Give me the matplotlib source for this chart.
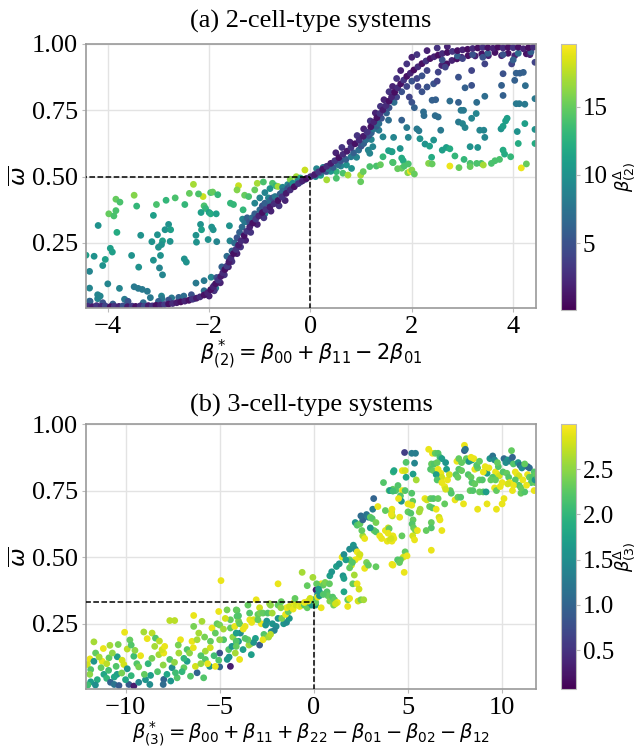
import matplotlib
matplotlib.use('Agg')
import matplotlib.pyplot as plt
import numpy as np

plt.rcParams['font.family'] = 'serif'
plt.rcParams['font.serif'] = ['Liberation Serif', 'DejaVu Serif']
plt.rcParams['mathtext.fontset'] = 'dejavusans'

# ---------------- panel (a): 2 cell types ----------------
# main (low beta_delta) strand
a_curve_x = [-4.40, -4.30, -4.22, -4.13, -4.05, -3.95, -3.87, -3.78, -3.70, -3.61, -3.52, -3.45, -3.36, -3.28,
             -3.20, -3.12, -3.05, -2.96, -2.88, -2.80, -2.72, -2.64, -2.56, -2.48, -2.40, -2.33, -2.25, -2.18,
             -2.10, -2.03, -1.97, -1.92, -1.87, -1.82, -1.77, -1.73, -1.69, -1.65, -1.61, -1.57, -1.52, -1.47,
             -1.42, -1.37, -1.31, -1.26, -1.20, -1.14, -1.08, -1.02, -0.95, -0.88, -0.80, -0.72, -0.64, -0.56,
             -0.48, -0.40, -0.32, -0.24, -0.16, -0.08, 0.00, 0.08, 0.16, 0.24, 0.32, 0.40, 0.48, 0.56, 0.64,
             0.72, 0.80, 0.88, 0.96, 1.04, 1.12, 1.19, 1.25, 1.31, 1.37, 1.43, 1.49, 1.55, 1.60, 1.66, 1.72,
             1.78, 1.84, 1.90, 1.97, 2.04, 2.12, 2.20, 2.28, 2.36, 2.44, 2.52, 2.60, 2.70, 2.80, 2.90, 3.00,
             3.10, 3.20, 3.30, 3.40, 3.50, 3.60, 3.70, 3.80, 3.90, 4.00, 4.10, 4.20, 4.30, 4.40]
a_curve_y = [0.012, 0.010, 0.014, 0.011, 0.013, 0.010, 0.012, 0.011, 0.013, 0.010, 0.012, 0.011, 0.013, 0.012,
             0.014, 0.013, 0.015, 0.016, 0.018, 0.020, 0.022, 0.025, 0.028, 0.031, 0.034, 0.038, 0.042, 0.047,
             0.054, 0.062, 0.074, 0.085, 0.097, 0.110, 0.124, 0.138, 0.150, 0.163, 0.178, 0.193, 0.210, 0.226,
             0.242, 0.258, 0.278, 0.294, 0.310, 0.325, 0.340, 0.352, 0.365, 0.376, 0.386, 0.398, 0.410, 0.424,
             0.437, 0.450, 0.462, 0.474, 0.484, 0.493, 0.500, 0.508, 0.518, 0.528, 0.539, 0.550, 0.560, 0.572,
             0.584, 0.596, 0.610, 0.624, 0.637, 0.652, 0.668, 0.688, 0.706, 0.722, 0.738, 0.752, 0.768, 0.785,
             0.800, 0.818, 0.835, 0.850, 0.864, 0.878, 0.890, 0.902, 0.914, 0.926, 0.936, 0.945, 0.952, 0.958,
             0.964, 0.968, 0.972, 0.975, 0.978, 0.980, 0.983, 0.985, 0.987, 0.986, 0.984, 0.988, 0.985, 0.988,
             0.986, 0.988, 0.982, 0.986, 0.988]
a_curve_c = [2.5, 1.5, 3.0, 2.0, 4.0, 1.0, 3.0, 2.0, 5.0, 1.5, 3.5, 1.0, 2.5, 4.5, 1.5, 3.0, 1.0, 2.0, 3.5, 1.0,
             2.5, 1.5, 0.8, 2.0, 1.0, 3.0, 1.5, 2.5, 1.0, 2.0, 0.8, 2.0, 1.0, 3.0, 1.5, 2.5, 1.0, 3.5, 1.5, 2.5,
             1.0, 3.0, 1.5, 2.5, 1.0, 3.0, 2.0, 1.0, 3.5, 2.0, 1.0, 3.0, 1.5, 2.5, 1.0, 3.0, 1.5, 2.5, 1.0, 3.0,
             2.0, 1.0, 2.5, 1.5, 3.0, 1.0, 2.5, 1.5, 3.0, 1.0, 2.5, 1.5, 3.0, 1.0, 2.5, 1.5, 3.0, 1.0, 2.0, 1.0,
             3.0, 1.5, 2.5, 1.0, 2.0, 0.8, 2.5, 1.0, 3.0, 1.0, 2.0, 0.8, 2.5, 1.0, 3.0, 1.0, 2.0, 0.8, 2.5, 1.0,
             3.0, 1.0, 2.0, 0.8, 2.5, 1.0, 3.0, 1.0, 2.0, 0.8, 2.5, 1.0, 3.0, 1.0, 2.0, 0.8, 2.5]

# strands next to the main one
a_band_x = [-2.30, -2.10, -1.90, -1.85, -1.75, -1.65, -1.60, -1.55, -1.50, -1.45, -1.40, -1.35, -1.30, -1.25,
            -1.20, -1.15, -1.10, -1.00, -0.95, -0.90, -0.80, -0.75, -0.70, -0.60, -0.55, -0.45, -0.40, -0.30,
            -0.20, -0.10, -0.25, -0.35, 0.10, 0.20, 0.30, 0.35, 0.45, 0.55, 0.60, 0.70, 0.80, 0.85, 0.95, 1.00,
            1.05, 1.10, 1.15, 1.20, 1.25, 1.30, 1.35, 1.40, 1.50, 1.55, 1.65, 1.70, 1.80, 1.90, 2.00, 2.10, 2.20,
            2.30, -4.35, -4.10, -3.90, -3.60, -3.30, -3.00, -2.80, -2.60, -2.50, -2.35, 2.60, 2.90, 3.20, 3.50,
            3.80, 4.10, 4.35, 3.00, 3.40, 4.00,
            -2.00, -1.90, -1.78, -1.70, -1.62, -1.55, -1.45, -1.38, -1.28, -1.18, -1.05, -0.92, -0.78, -0.62,
            -0.50, 0.50, 0.62, 0.78, 0.92, 1.05, 1.18, 1.28, 1.38, 1.45, 1.55, 1.62, 1.70, 1.78, 1.90, 2.00,
            2.10, 2.30, 2.50, 2.70]
a_band_y = [0.040, 0.070, 0.090, 0.120, 0.160, 0.200, 0.185, 0.220, 0.250, 0.270, 0.290, 0.310, 0.330, 0.345,
            0.330, 0.345, 0.360, 0.375, 0.390, 0.400, 0.410, 0.420, 0.425, 0.435, 0.445, 0.455, 0.465, 0.470,
            0.480, 0.490, 0.485, 0.475, 0.505, 0.515, 0.520, 0.530, 0.535, 0.545, 0.560, 0.565, 0.575, 0.590,
            0.600, 0.615, 0.625, 0.640, 0.655, 0.665, 0.680, 0.690, 0.700, 0.720, 0.740, 0.760, 0.780, 0.800,
            0.820, 0.840, 0.860, 0.870, 0.880, 0.900, 0.030, 0.025, 0.020, 0.030, 0.025, 0.030, 0.035, 0.045,
            0.050, 0.055, 0.940, 0.955, 0.960, 0.965, 0.960, 0.965, 0.970, 0.945, 0.950, 0.940,
            0.050, 0.070, 0.100, 0.130, 0.160, 0.180, 0.210, 0.235, 0.260, 0.290, 0.320, 0.345, 0.370, 0.390,
            0.410, 0.590, 0.610, 0.630, 0.655, 0.680, 0.710, 0.740, 0.765, 0.790, 0.820, 0.840, 0.870, 0.900,
            0.925, 0.950, 0.960, 0.975, 0.985, 0.990]
a_band_c = [6, 7, 6, 5, 6, 7, 5, 6, 7, 5, 6, 7, 8, 6, 5, 7, 6, 7, 5, 6, 7, 5, 8, 6, 7, 5, 6, 8, 6, 7, 9, 10,
            6, 7, 5, 8, 6, 7, 5, 6, 8, 6, 7, 5, 6, 7, 5, 6, 8, 6, 7, 5, 6, 5, 7, 4, 5, 4, 5, 4, 5, 4,
            6, 5, 6, 5, 7, 6, 5, 6, 7, 5, 5, 6, 5, 6, 5, 7, 6, 4, 5, 6,
            2, 3, 2, 3, 2, 3, 2, 3, 2, 3, 2, 3, 2, 3, 2, 2, 3, 2, 3, 2, 3, 2, 3, 2, 3, 2, 3, 2, 3, 2,
            3, 2, 3, 2]

# scattered cloud, left of zero
a_left_x = [-2.31, -1.42, -3.48, -2.12, -2.39, -2.21, -1.97, -1.93, -1.83, -3.84, -3.76, -2.67, -2.85, -2.48,
            -3.04, -3.43, -3.98, -3.88, -3.84, -3.10, -2.10, -2.07, -2.00, -1.97, -2.16, -1.86, -1.58, -1.52,
            -1.60, -4.19, -2.80, -2.87, -2.76, -2.17, -2.15, -1.95, -1.92, -3.82, -3.35, -3.02, -3.13, -2.92,
            -2.77, -3.00, -2.94, -2.26, -2.25, -2.02, -1.85, -1.59, -1.34, -3.95, -3.91, -4.43, -4.27, -4.05,
            -4.10, -3.53, -3.10, -2.96, -2.49, -2.45, -3.39, -2.98, -2.92, -4.36, -4.36, -4.00, -3.77, -3.48,
            -3.40, -3.32, -3.22, -4.20, -4.15, -4.20, -3.67, -3.62, -3.16, -2.94, -2.93, -2.74, -2.26, -2.10,
            -1.96, -1.87, -4.36, -1.30, -1.22, -1.05, -0.93, -0.75, -0.68, -0.64, -0.28, -0.11, -0.55, -0.45,
            -0.80, -0.90, -1.00, -1.10, -1.33, -1.20, -1.25, -0.83, -0.80, -0.90, -1.45, -1.10, -0.40, -0.20]
a_left_y = [0.471, 0.466, 0.430, 0.425, 0.437, 0.435, 0.440, 0.442, 0.432, 0.415, 0.404, 0.420, 0.411, 0.395,
            0.395, 0.389, 0.360, 0.352, 0.372, 0.354, 0.390, 0.380, 0.365, 0.360, 0.365, 0.360, 0.400, 0.395,
            0.315, 0.316, 0.320, 0.300, 0.300, 0.320, 0.300, 0.310, 0.300, 0.290, 0.279, 0.281, 0.255, 0.258,
            0.256, 0.234, 0.244, 0.279, 0.253, 0.263, 0.255, 0.258, 0.340, 0.230, 0.216, 0.204, 0.200, 0.188,
            0.165, 0.203, 0.185, 0.203, 0.190, 0.178, 0.159, 0.156, 0.130, 0.143, 0.080, 0.096, 0.079, 0.085,
            0.079, 0.075, 0.068, 0.055, 0.050, 0.040, 0.038, 0.031, 0.044, 0.050, 0.040, 0.043, 0.099, 0.108,
            0.121, 0.080, 0.031, 0.430, 0.425, 0.475, 0.480, 0.475, 0.465, 0.463, 0.500, 0.525, 0.460, 0.470,
            0.455, 0.440, 0.420, 0.400, 0.375, 0.335, 0.330, 0.420, 0.390, 0.360, 0.450, 0.450, 0.490, 0.495]
a_left_c = [17, 18, 16, 18, 15, 14, 14, 15, 13, 15, 14, 14, 13, 13, 14, 13, 15, 14, 14, 11, 14, 13, 11, 12, 11,
            11, 13, 13, 10, 10, 10, 10, 11, 10, 11, 10, 10, 12, 10, 10, 10, 11, 10, 10, 10, 10, 10, 10, 9, 9,
            9, 11, 11, 11, 10, 11, 10, 10, 10, 10, 10, 10, 10, 9, 9, 9, 9, 9, 9, 8, 8, 8, 8, 9, 9, 9, 8, 8,
            8, 9, 8, 8, 8, 8, 9, 8, 9, 15, 14, 17, 14, 14, 13, 17, 17, 18, 9, 9, 10, 9, 9, 9, 13, 9, 9, 9,
            9, 9, 16, 15, 16, 12]

# scattered cloud, right of zero
a_right_x = [0.12, 0.25, 0.33, 0.51, 0.64, 0.74, 0.99, 1.04, 0.99, 0.32, 0.51, 0.10, 0.20, 0.71, 0.81, 0.91,
             1.17, 1.30, 1.38, 1.43, 1.60, 1.63, 1.23, 1.17, 1.43, 1.35, 1.10, 1.20, 1.14, 0.60, 0.40,
             2.59, 2.69, 2.79, 2.89, 2.98, 3.11, 3.25, 3.38, 3.51, 3.64, 3.77, 3.90, 4.03, 4.26, 4.43, 4.33,
             2.52, 2.66, 2.92, 3.18, 3.44, 3.80, 3.97, 4.06, 4.13, 4.20, 4.03, 4.24, 2.30, 2.43, 2.50, 2.40,
             2.47, 2.75, 2.92, 3.05, 3.18, 3.28, 3.44, 3.77, 3.80, 4.06, 4.12, 4.23, 4.43, 2.12, 2.20, 1.95,
             2.00, 2.05,
             1.54, 1.80, 1.90, 2.10, 2.14, 2.23, 2.24, 2.46, 2.52, 2.57, 2.92, 2.97, 3.02, 3.00, 3.05, 3.18,
             3.34, 3.42, 3.27, 3.44, 3.30, 3.15, 3.76, 3.80, 3.85, 3.88, 4.08, 4.23, 4.43,
             1.54, 1.61, 1.77, 1.80, 1.83, 1.64, 1.93, 2.16, 2.26, 2.35, 2.43, 2.39, 2.60, 2.68, 2.75, 2.85,
             3.03, 3.15, 3.28, 3.37, 3.57, 3.64, 3.73, 3.80, 3.83, 3.95, 4.10, 4.43,
             1.62, 1.72, 1.80, 1.92, 1.97, 2.00, 1.93, 2.33, 2.40, 2.75, 2.93, 3.15, 3.41, 4.16, 4.26, 2.05,
             1.85]
a_right_y = [0.530, 0.535, 0.520, 0.519, 0.513, 0.506, 0.506, 0.519, 0.481, 0.488, 0.494, 0.500, 0.505, 0.544,
             0.531, 0.573, 0.538, 0.540, 0.545, 0.575, 0.594, 0.553, 0.613, 0.588, 0.650, 0.675, 0.640, 0.640,
             0.600, 0.540, 0.520,
             0.919, 0.925, 0.938, 0.944, 0.950, 0.956, 0.955, 0.963, 0.956, 0.968, 0.956, 0.965, 0.956, 0.963,
             0.931, 0.960,
             0.894, 0.913, 0.875, 0.900, 0.925, 0.888, 0.925, 0.890, 0.890, 0.893, 0.863, 0.843, 0.838, 0.850,
             0.860, 0.788, 0.790, 0.785, 0.780, 0.835, 0.844, 0.780, 0.803, 0.844, 0.806, 0.775, 0.775, 0.773,
             0.794, 0.840, 0.820, 0.800, 0.780, 0.760,
             0.713, 0.713, 0.685, 0.680, 0.673, 0.744, 0.730, 0.730, 0.725, 0.675, 0.706, 0.750, 0.750, 0.700,
             0.685, 0.720, 0.675, 0.675, 0.738, 0.648, 0.610, 0.613, 0.680, 0.690, 0.710, 0.720, 0.670, 0.700,
             0.678,
             0.598, 0.594, 0.606, 0.570, 0.560, 0.648, 0.648, 0.643, 0.623, 0.615, 0.638, 0.573, 0.600, 0.610,
             0.605, 0.578, 0.565, 0.550, 0.550, 0.550, 0.550, 0.560, 0.565, 0.600, 0.585, 0.575, 0.625, 0.625,
             0.554, 0.530, 0.532, 0.515, 0.520, 0.525, 0.548, 0.550, 0.548, 0.540, 0.534, 0.538, 0.544, 0.533,
             0.548, 0.510, 0.540]
a_right_c = [9, 8, 9, 13, 14, 17, 17, 15, 15, 17, 14, 10, 11, 10, 10, 9, 14, 14, 15, 13, 10, 14, 9, 9, 9, 8,
             9, 9, 9, 9, 10,
             2, 1, 2, 1, 2, 1, 2, 1, 2, 1, 2, 1, 2, 1, 4, 2,
             4, 4, 5, 4, 4, 5, 4, 6, 6, 6, 6, 7, 5, 5, 4, 6, 6, 7, 6, 6, 5, 7, 7, 6, 6, 8, 8, 8, 8, 4, 5, 4,
             5, 6,
             7, 6, 8, 8, 8, 7, 7, 7, 7, 8, 8, 8, 8, 9, 9, 9, 9, 9, 9, 9, 10, 10, 10, 11, 11, 11, 10, 11, 10,
             11, 11, 10, 12, 12, 9, 9, 10, 10, 11, 10, 12, 11, 11, 12, 13, 13, 14, 14, 14, 14, 14, 14, 12, 12,
             13, 12, 12,
             14, 15, 15, 16, 19, 16, 14, 16, 15, 19, 15, 15, 17, 19, 15, 15, 14]

# ---------------- panel (b): 3 cell types ----------------
b_low_x = [-4.93, -6.38, -7.65, -7.39, -10.05, -11.68, -9.03, -8.59, -8.85, -8.41, -10.83, -10.39, -11.18,
           -9.77, -9.91, -11.59, -11.89, -12.03, -11.85, -11.68, -11.24, -10.88, -10.44, -10.18, -10.09, -9.56,
           -9.40, -9.30, -9.91, -10.45, -10.60, -11.15, -11.00, -11.50, -11.85, -10.80, -10.60, -10.35, -9.82,
           -9.56, -8.94, -8.71, -8.67, -8.23, -7.97, -8.06, -7.92, -8.45, -7.65, -7.53, -7.97, -8.00, -7.60,
           -7.26, -7.35, -6.90, -7.17, -7.08, -6.73, -6.47, -6.38, -6.20, -6.11, -6.73, -6.55, -6.20, -5.85,
           -6.29, -5.76, -5.53, -5.94, -5.41, -5.76, -5.49, -5.23, -5.05, -5.14, -5.00, -4.79, -4.61, -4.43,
           -4.43, -4.08, -4.08, -4.52, -5.00, -5.00, -4.43, -4.60, -4.50, -5.05, -4.17, -4.00, -4.10, -3.90,
           -4.35, -5.23, -5.64,
           -11.90, -12.00, -11.60, -11.30, -11.00, -10.70, -10.50, -10.20, -10.00, -9.70, -9.50, -9.20, -9.00,
           -8.80, -8.60, -8.30, -8.00, -7.80, -7.40, -7.20, -6.90, -6.60, -6.40, -6.00, -5.80, -5.50, -5.30,
           -5.00, -4.80, -4.70, -4.30, -4.20, -4.00, -9.30, -10.90, -11.40, -7.00, -6.00, -8.20, -9.70]
b_low_y = [0.412, 0.281, 0.262, 0.262, 0.218, 0.182, 0.219, 0.215, 0.194, 0.196, 0.169, 0.172, 0.157, 0.189,
           0.155, 0.140, 0.118, 0.097, 0.078, 0.109, 0.109, 0.122, 0.126, 0.113, 0.097, 0.128, 0.100, 0.088,
           0.081, 0.060, 0.050, 0.060, 0.045, 0.040, 0.032, 0.030, 0.022, 0.018, 0.022, 0.016, 0.040, 0.022,
           0.056, 0.134, 0.140, 0.153, 0.165, 0.165, 0.116, 0.085, 0.041, 0.022, 0.035, 0.047, 0.066, 0.085,
           0.140, 0.190, 0.153, 0.184, 0.240, 0.190, 0.215, 0.109, 0.053, 0.066, 0.047, 0.090, 0.116, 0.090,
           0.259, 0.234, 0.147, 0.184, 0.215, 0.296, 0.250, 0.245, 0.190, 0.302, 0.265, 0.234, 0.300, 0.278,
           0.153, 0.140, 0.088, 0.090, 0.116, 0.125, 0.113, 0.140, 0.184, 0.180, 0.215, 0.165, 0.090, 0.100,
           0.060, 0.020, 0.020, 0.085, 0.100, 0.140, 0.090, 0.065, 0.040, 0.055, 0.150, 0.130, 0.060, 0.100,
           0.120, 0.070, 0.095, 0.060, 0.105, 0.170, 0.120, 0.140, 0.160, 0.130, 0.200, 0.160, 0.130, 0.190,
           0.230, 0.270, 0.200, 0.240, 0.260, 0.030, 0.075, 0.125, 0.070, 0.100, 0.185, 0.170]
b_low_c = [2.9, 2.9, 2.7, 2.7, 2.9, 2.6, 2.6, 2.7, 2.9, 2.2, 2.6, 2.4, 2.9, 2.3, 2.7, 2.3, 2.9, 2.8, 2.2, 1.6,
           2.9, 2.3, 1.7, 2.8, 2.8, 2.1, 2.2, 2.4, 1.6, 1.7, 1.8, 1.8, 2.0, 1.9, 1.7, 1.0, 1.2, 0.9, 0.9, 0.3,
           1.6, 1.5, 1.7, 2.6, 2.9, 2.8, 2.9, 2.6, 2.2, 1.5, 1.0, 1.1, 1.6, 2.2, 2.1, 2.3, 2.6, 2.9, 2.2, 2.9,
           2.4, 2.6, 2.6, 1.7, 2.2, 1.0, 2.2, 2.8, 2.2, 1.6, 2.6, 2.9, 2.6, 2.3, 2.3, 2.9, 2.3, 2.4, 2.2, 2.4,
           2.3, 2.3, 2.2, 2.2, 2.2, 0.8, 1.0, 0.3, 1.6, 1.6, 2.2, 2.6, 1.6, 1.6, 1.5, 1.6, 2.9, 2.9,
           2.5, 2.1, 1.5, 2.3, 2.7, 2.5, 2.2, 2.4, 1.8, 2.0, 2.5, 2.9, 2.3, 2.0, 2.4, 2.2, 2.5, 1.8, 2.5, 2.4,
           2.0, 2.5, 2.9, 2.2, 2.4, 2.8, 2.1, 2.5, 2.6, 2.8, 2.5, 2.9, 2.4, 1.4, 2.1, 2.6, 2.0, 2.5, 2.7, 2.2]

b_mid_x = [-4.12, -4.00, -3.94, -4.12, -4.12, -4.12, -3.94, -3.76, -3.45, -3.35, -3.32, -3.50, -3.41, -3.40,
           -3.20, -3.30, -3.06, -2.88, -2.97, -2.85, -2.70, -2.45, -2.35, -2.30, -2.79, -2.56, -2.50, -2.20,
           -2.00, -1.90, -2.26, -2.10, -1.60, -1.45, -1.30, -1.70, -1.50, -1.35, -1.45, -1.30, -1.10, -1.05,
           -0.95, -0.75, -0.65, -0.50, -0.35, -0.25, -0.10, -1.90, -1.75, -2.21, -2.65, -2.55, -3.10, -3.20,
           -3.50, -3.65, -2.88, -2.70, -2.40, -2.30, -2.97, -3.75, -3.65, -1.90, -1.73, -1.00, -0.62, -0.35,
           -0.05, 0.12, 0.20, 0.30, 0.40, 0.50, 0.60, 0.09, 0.39, 0.70, 0.75, 0.85, 0.83, 1.00, 1.10, 1.05,
           1.25, 1.15, 0.85, 0.95, 1.20, 1.35, 1.50, 1.60, 1.55, 1.60, 1.80, 1.90, 1.80, 2.07, 1.60, 2.35,
           2.50, 2.65, 2.30, 2.40, 2.15, 2.00, 2.20, 2.40, 1.90, 2.05, 1.90, 2.10, 2.20, 2.30, 2.45, 2.70,
           2.80, 2.90, 3.30, 4.20, 2.20, 2.30, 2.45, 2.60, 2.50, 2.80, 2.90, 3.13, 3.18, 3.00, 3.10, 3.40,
           3.20, 3.30, 3.80, 3.95, 3.90, 4.05, 4.15, 4.25, 4.00, 4.20, 4.35, 3.70, 4.22, 4.13, 4.17, 3.80,
           1.90, 1.70, 2.60, 2.70, 3.50, 3.60, 3.00, 3.30, 2.55, -0.50, -0.30, 0.00, 0.10, 0.20, 0.30, 0.50,
           -0.20, 0.15, 0.25]
b_mid_y = [0.302, 0.280, 0.250, 0.215, 0.184, 0.165, 0.116, 0.153, 0.170, 0.175, 0.134, 0.320, 0.290, 0.265,
           0.265, 0.255, 0.340, 0.310, 0.285, 0.290, 0.290, 0.290, 0.325, 0.320, 0.250, 0.245, 0.260, 0.250,
           0.240, 0.270, 0.220, 0.225, 0.250, 0.255, 0.270, 0.270, 0.285, 0.295, 0.310, 0.315, 0.305, 0.330,
           0.320, 0.315, 0.320, 0.320, 0.310, 0.330, 0.320, 0.320, 0.310, 0.290, 0.210, 0.200, 0.195, 0.180,
           0.190, 0.195, 0.170, 0.190, 0.200, 0.210, 0.265, 0.230, 0.240, 0.400, 0.333, 0.345, 0.443, 0.393,
           0.424, 0.377, 0.360, 0.370, 0.400, 0.395, 0.405, 0.320, 0.310, 0.370, 0.355, 0.335, 0.400, 0.350,
           0.340, 0.320, 0.330, 0.325, 0.430, 0.445, 0.465, 0.475, 0.500, 0.510, 0.430, 0.420, 0.340, 0.345,
           0.315, 0.400, 0.370, 0.335, 0.340, 0.340, 0.400, 0.380, 0.433, 0.470, 0.490, 0.500, 0.490, 0.480,
           0.530, 0.545, 0.530, 0.520, 0.510, 0.458, 0.480, 0.470, 0.464, 0.470, 0.630, 0.620, 0.625, 0.640,
           0.655, 0.660, 0.650, 0.680, 0.720, 0.650, 0.645, 0.690, 0.600, 0.595, 0.600, 0.610, 0.560, 0.565,
           0.560, 0.570, 0.750, 0.755, 0.750, 0.780, 0.820, 0.670, 0.655, 0.675, 0.460, 0.490, 0.580, 0.570,
           0.580, 0.570, 0.610, 0.630, 0.600, 0.330, 0.335, 0.340, 0.330, 0.350, 0.355, 0.360, 0.345, 0.400,
           0.380]
b_mid_c = [2.3, 2.2, 2.3, 1.7, 2.2, 2.3, 2.9, 1.7, 2.6, 2.5, 1.7, 2.3, 2.2, 2.9, 2.8, 2.9, 2.9, 2.8, 2.3, 2.4,
           2.3, 2.2, 2.6, 2.5, 2.9, 1.6, 1.6, 1.6, 1.5, 1.6, 1.5, 1.4, 1.6, 1.5, 1.6, 2.4, 2.9, 2.3, 2.9, 2.8,
           2.9, 2.9, 2.8, 2.9, 2.8, 2.2, 2.3, 1.7, 1.6, 2.3, 2.5, 2.6, 2.2, 2.3, 1.7, 1.6, 2.3, 2.2, 0.9, 2.9,
           2.6, 2.7, 2.3, 2.9, 2.9, 2.9, 2.3, 2.3, 2.6, 2.3, 2.6, 0.3, 1.6, 1.7, 2.9, 2.3, 2.4, 1.7, 2.9, 2.2,
           2.3, 2.4, 2.3, 2.2, 2.3, 2.4, 2.9, 2.8, 1.7, 1.6, 1.7, 1.6, 2.9, 1.5, 1.6, 1.7, 2.3, 2.9, 2.9, 2.3,
           1.8, 2.8, 2.4, 2.6, 2.9, 2.8, 2.6, 2.8, 2.9, 2.9, 2.3, 2.2, 1.5, 1.6, 1.5, 2.9, 2.8, 2.9, 2.4, 2.3,
           2.3, 2.9, 1.6, 2.2, 2.3, 1.0, 1.1, 1.2, 1.3, 1.3, 1.0, 2.3, 2.2, 2.9, 2.3, 2.2, 2.9, 2.8, 2.9, 2.8,
           2.9, 2.9, 2.2, 2.3, 2.2, 2.2, 2.0, 2.6, 2.7, 2.3, 2.3, 1.7, 2.6, 2.9, 2.9, 2.9, 1.6, 2.4, 2.3, 2.9,
           2.9, 1.7, 2.3, 2.9, 1.6, 2.2, 2.8, 2.3, 1.7]

b_high_x = [4.82, 5.20, 5.40, 5.35, 4.90, 4.26, 4.70, 4.85, 5.27, 4.90, 5.44, 4.47, 4.05, 4.20, 4.70, 4.85,
            4.60, 4.65, 4.50, 5.20, 5.25, 5.00, 5.20, 5.00, 5.15, 4.15, 4.56, 4.12, 4.00, 4.20, 4.10, 3.94,
            4.68, 5.27, 5.22, 5.30, 5.40, 5.50, 5.25, 5.35, 4.85, 4.75, 4.95, 4.60, 4.45, 4.55, 4.15, 4.80,
            6.24, 5.90, 6.00, 6.20, 6.35, 6.15, 6.30, 6.50, 6.65, 6.70, 6.80, 6.24, 6.24, 5.97, 5.65, 5.60,
            6.60, 6.95, 7.25, 7.30, 7.50, 7.65, 7.80, 7.95, 8.30, 8.45, 8.70, 9.20, 9.70, 10.00, 8.80, 9.00,
            9.15, 9.60, 9.70, 10.10, 10.55, 11.00, 11.20, 11.70,
            6.10, 6.30, 6.45, 6.60, 6.70, 6.80, 6.25, 6.40, 6.55, 6.20, 6.35, 6.60, 6.75, 6.80, 7.00, 7.05,
            6.50, 6.55, 6.80, 6.95, 7.00, 7.10, 7.20, 7.60, 7.70, 7.85, 7.70, 7.85, 7.55, 7.65, 8.00, 8.00,
            8.05, 8.10, 8.20, 8.25, 8.40, 8.35, 8.50, 8.20, 8.35, 8.55, 8.70, 8.65, 8.40, 8.55, 8.80, 8.95,
            8.80, 9.10, 9.20, 9.30, 9.35, 9.50, 9.60, 9.65, 9.75, 9.85, 9.50, 9.65, 9.80, 9.75, 10.10, 10.30,
            10.20, 10.05, 10.25, 10.35, 10.45, 10.55, 10.60, 10.50, 10.70, 10.80, 10.90, 10.85, 10.95, 11.05,
            10.90, 11.00, 11.35, 11.45, 11.60, 11.35, 11.45, 11.70, 11.80, 11.55, 11.75, 11.75, 10.70, 10.60,
            10.40, 10.30, 10.00, 9.90, 9.00, 9.40, 11.20, 11.90, 11.10, 11.30]
b_high_y = [0.893, 0.890, 0.890, 0.853, 0.856, 0.825, 0.825, 0.825, 0.812, 0.800, 0.790, 0.769, 0.750, 0.748,
            0.750, 0.750, 0.730, 0.710, 0.720, 0.740, 0.710, 0.700, 0.695, 0.670, 0.665, 0.680, 0.650, 0.660,
            0.607, 0.580, 0.570, 0.590, 0.580, 0.640, 0.625, 0.610, 0.600, 0.600, 0.580, 0.565, 0.520, 0.500,
            0.505, 0.490, 0.490, 0.480, 0.473, 0.443, 0.526, 0.720, 0.715, 0.720, 0.720, 0.690, 0.685, 0.680,
            0.650, 0.640, 0.600, 0.630, 0.610, 0.600, 0.680, 0.670, 0.720, 0.700, 0.750, 0.740, 0.715, 0.725,
            0.725, 0.700, 0.750, 0.750, 0.680, 0.700, 0.680, 0.700, 0.745, 0.745, 0.745, 0.760, 0.750, 0.720,
            0.750, 0.740, 0.745, 0.750,
            0.905, 0.890, 0.890, 0.890, 0.875, 0.870, 0.850, 0.850, 0.855, 0.830, 0.825, 0.830, 0.815, 0.800,
            0.855, 0.830, 0.810, 0.790, 0.780, 0.765, 0.755, 0.790, 0.810, 0.860, 0.870, 0.855, 0.830, 0.825,
            0.810, 0.800, 0.920, 0.900, 0.905, 0.870, 0.860, 0.860, 0.865, 0.875, 0.870, 0.810, 0.800, 0.830,
            0.835, 0.845, 0.780, 0.775, 0.790, 0.790, 0.860, 0.840, 0.815, 0.835, 0.870, 0.880, 0.865, 0.820,
            0.810, 0.805, 0.800, 0.790, 0.840, 0.855, 0.870, 0.865, 0.855, 0.820, 0.815, 0.800, 0.860, 0.875,
            0.850, 0.900, 0.820, 0.810, 0.805, 0.855, 0.845, 0.835, 0.770, 0.760, 0.810, 0.800, 0.800, 0.840,
            0.835, 0.820, 0.810, 0.780, 0.780, 0.790, 0.790, 0.770, 0.780, 0.775, 0.780, 0.765, 0.820, 0.790,
            0.850, 0.800, 0.790, 0.770]
b_high_c = [0.6, 1.3, 1.3, 1.4, 2.2, 1.8, 2.9, 2.8, 1.7, 1.8, 2.6, 2.2, 1.7, 2.1, 2.9, 2.2, 2.2, 1.6, 2.9, 2.2,
            2.3, 2.9, 2.9, 2.3, 2.2, 2.9, 2.9, 2.9, 2.3, 2.9, 2.8, 2.9, 2.3, 2.3, 2.2, 2.3, 2.4, 2.9, 2.8, 2.9,
            2.3, 2.8, 2.9, 2.3, 2.2, 2.3, 2.9, 2.9, 2.9, 2.9, 2.8, 2.3, 2.2, 2.3, 2.2, 2.9, 2.8, 2.9, 2.9, 2.3,
            2.2, 2.3, 2.6, 2.6, 2.3, 2.3, 2.3, 2.2, 2.9, 2.3, 2.2, 2.9, 2.3, 2.2, 2.9, 2.9, 2.9, 2.9, 2.3, 2.2,
            1.7, 2.9, 2.3, 2.9, 2.9, 2.3, 2.2, 2.9,
            2.9, 2.9, 2.3, 2.2, 2.1, 1.7, 2.3, 2.2, 2.3, 2.2, 2.3, 2.9, 2.9, 2.8, 1.6, 1.7, 1.7, 2.2, 2.9, 2.9,
            2.8, 2.9, 2.8, 2.9, 2.3, 2.3, 2.2, 2.3, 2.2, 2.3, 2.9, 0.9, 1.2, 2.3, 2.2, 1.6, 1.7, 2.9, 2.9, 2.2,
            2.3, 2.9, 2.3, 2.2, 2.2, 2.3, 2.3, 2.2, 2.3, 2.9, 1.7, 2.9, 1.6, 1.2, 1.5, 2.9, 2.9, 2.8, 2.2, 2.3,
            2.2, 2.3, 1.1, 1.6, 1.5, 2.2, 2.3, 2.2, 1.4, 1.0, 2.2, 2.3, 2.9, 2.9, 2.8, 1.6, 1.2, 1.5, 2.2, 2.3,
            2.9, 2.3, 2.2, 1.0, 1.1, 2.2, 2.3, 2.2, 2.3, 1.6, 2.2, 2.9, 2.9, 2.8, 2.9, 2.9, 2.9, 2.3, 2.3, 2.3,
            2.9, 2.9]

ax_x = np.concatenate([a_left_x, a_right_x, a_band_x, a_curve_x])
ax_y = np.concatenate([a_left_y, a_right_y, a_band_y, a_curve_y])
ax_c = np.concatenate([a_left_c, a_right_c, a_band_c, a_curve_c])

bx_x = np.concatenate([b_low_x, b_mid_x, b_high_x])
bx_y = np.concatenate([b_low_y, b_mid_y, b_high_y])
bx_c = np.concatenate([b_low_c, b_mid_c, b_high_c])

W, H = 640, 749
fig = plt.figure(figsize=(W / 100, H / 100), dpi=100)

ax1 = fig.add_axes([86 / W, 1 - 308 / H, 450 / W, 264 / H])
cax1 = fig.add_axes([561 / W, 1 - 310 / H, 15 / W, 266 / H])
ax2 = fig.add_axes([86 / W, 1 - 689 / H, 450 / W, 265 / H])
cax2 = fig.add_axes([561 / W, 1 - 689 / H, 15 / W, 265 / H])


def style(ax):
    ax.grid(True, color='#e3e3e3', linewidth=1.0, zorder=0)
    ax.set_axisbelow(True)
    for s in ax.spines.values():
        s.set_color('#9a9a9a')
        s.set_linewidth(1.2)
    ax.tick_params(labelsize=19, length=3, color='#bbbbbb', pad=3)
    ax.set_yticks([0.25, 0.5, 0.75, 1.0])
    ax.set_ylim(0.005, 1.0)


# panel (a)
sc1 = ax1.scatter(ax_x, ax_y, c=ax_c, cmap='viridis', vmin=0.1, vmax=19.6, s=24, linewidths=0, zorder=2)
ax1.plot([-5, 0], [0.5, 0.5], 'k--', lw=1.1, zorder=3)
ax1.plot([0, 0], [0, 0.5], 'k--', lw=1.1, zorder=3)
ax1.set_xlim(-4.43, 4.45)
ax1.set_xticks([-4, -2, 0, 2, 4])
style(ax1)
ax1.set_title('(a) 2-cell-type systems', fontsize=19, pad=12)
ax1.set_xlabel(r'$\beta^*_{(2)} = \beta_{00} + \beta_{11} - 2\beta_{01}$', fontsize=15, labelpad=0)
ax1.set_ylabel(r'$\overline{\omega}$', fontsize=16, labelpad=0)
cb1 = fig.colorbar(sc1, cax=cax1)
cb1.set_ticks([5, 10, 15])
cb1.set_label(r'$\beta^{\Delta}_{(2)}$', fontsize=13)

# panel (b)
sc2 = ax2.scatter(bx_x, bx_y, c=bx_c, cmap='viridis', vmin=0.07, vmax=3.0, s=24, linewidths=0, zorder=2)
ax2.plot([-13, 0], [1 / 3, 1 / 3], 'k--', lw=1.1, zorder=3)
ax2.plot([0, 0], [0, 1 / 3], 'k--', lw=1.1, zorder=3)
ax2.set_xlim(-12.1, 11.8)
ax2.set_xticks([-10, -5, 0, 5, 10])
style(ax2)
ax2.set_title('(b) 3-cell-type systems', fontsize=19, pad=9)
ax2.set_xlabel(r'$\beta^*_{(3)} = \beta_{00} + \beta_{11} + \beta_{22} - \beta_{01} - \beta_{02} - \beta_{12}$',
               fontsize=14, labelpad=0)
ax2.set_ylabel(r'$\overline{\omega}$', fontsize=16, labelpad=0)
cb2 = fig.colorbar(sc2, cax=cax2)
cb2.set_ticks([0.5, 1.0, 1.5, 2.0, 2.5])
cb2.set_label(r'$\beta^{\Delta}_{(3)}$', fontsize=13)

for cb in (cb1, cb2):
    cb.outline.set_edgecolor('#bbbbbb')
    cb.ax.tick_params(labelsize=18, length=3, color='#bbbbbb', pad=2)
    cb.ax.yaxis.set_label_coords(3.35, 0.5)

fig.savefig('out.png', dpi=100)
